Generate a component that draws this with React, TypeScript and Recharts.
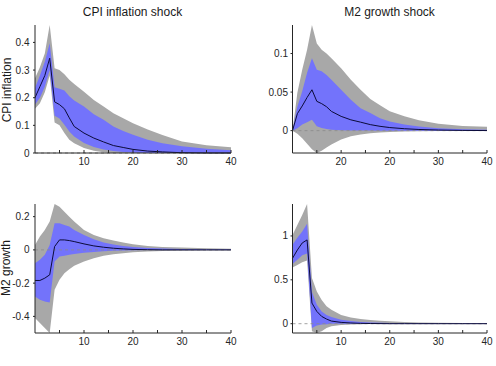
import React from 'react';
import {
  ComposedChart,
  Area,
  Line,
  XAxis,
  YAxis,
  ReferenceLine
} from 'recharts';

// horizon (periods after the shock)
const horizon = [0, 1, 2, 3, 4, 5, 6, 7, 8, 10, 12, 14, 16, 18, 20, 23, 26, 30, 35, 40];

// CPI inflation response to a CPI inflation shock
const cpiCpiMed = [0.2, 0.24, 0.28, 0.343, 0.185, 0.175, 0.16, 0.127, 0.096, 0.072, 0.054, 0.04, 0.027, 0.02, 0.013, 0.007, 0.004, 0.001, 0, 0];
const cpiCpiHi68 = [0.235, 0.28, 0.33, 0.397, 0.238, 0.232, 0.226, 0.205, 0.19, 0.168, 0.14, 0.12, 0.096, 0.08, 0.066, 0.048, 0.035, 0.024, 0.015, 0.01];
const cpiCpiLo68 = [0.175, 0.2, 0.24, 0.3, 0.135, 0.125, 0.102, 0.078, 0.06, 0.036, 0.022, 0.013, 0.007, 0.004, 0.002, 0, 0, 0, 0, 0];
const cpiCpiHi95 = [0.27, 0.31, 0.36, 0.463, 0.307, 0.3, 0.285, 0.265, 0.25, 0.222, 0.192, 0.168, 0.144, 0.126, 0.108, 0.085, 0.065, 0.042, 0.028, 0.021];
const cpiCpiLo95 = [0.16, 0.18, 0.22, 0.28, 0.11, 0.1, 0.072, 0.048, 0.035, 0.018, 0.008, 0.003, 0, 0, 0, 0, 0, 0, 0, 0];

// CPI inflation response to an M2 growth shock
const m2CpiMed = [0, 0.022, 0.032, 0.043, 0.053, 0.038, 0.035, 0.031, 0.025, 0.0185, 0.014, 0.011, 0.0078, 0.0056, 0.004, 0.0025, 0.0015, 0.0008, 0.0003, 0.0001];
const m2CpiHi68 = [0, 0.031, 0.051, 0.075, 0.094, 0.079, 0.077, 0.072, 0.066, 0.053, 0.04, 0.029, 0.023, 0.016, 0.012, 0.008, 0.0055, 0.003, 0.0018, 0.001];
const m2CpiLo68 = [0, 0.003, 0.008, 0.011, 0.014, 0.0056, 0.0035, 0.002, 0.001, 0.0005, 0.0003, 0.0002, 0.0001, 0, 0, 0, 0, 0, 0, 0];
const m2CpiHi95 = [0, 0.049, 0.079, 0.105, 0.137, 0.113, 0.105, 0.1, 0.094, 0.081, 0.066, 0.053, 0.041, 0.033, 0.025, 0.0185, 0.0135, 0.009, 0.006, 0.005];
const m2CpiLo95 = [0, -0.004, -0.01, -0.017, -0.024, -0.029, -0.026, -0.022, -0.018, -0.0116, -0.0073, -0.005, -0.0035, -0.0025, -0.0018, -0.001, -0.0007, -0.0004, -0.0002, -0.0001];

// M2 growth response to a CPI inflation shock
const cpiM2Med = [-0.184, -0.184, -0.17, -0.15, 0.02, 0.06, 0.06, 0.056, 0.05, 0.036, 0.024, 0.016, 0.01, 0.006, 0.003, 0.001, 0, 0, 0, 0];
const cpiM2Hi68 = [-0.08, -0.06, -0.03, 0.03, 0.16, 0.16, 0.15, 0.14, 0.12, 0.09, 0.064, 0.044, 0.032, 0.024, 0.018, 0.012, 0.008, 0.005, 0.003, 0.002];
const cpiM2Lo68 = [-0.28, -0.3, -0.31, -0.316, -0.07, -0.04, -0.035, -0.03, -0.025, -0.018, -0.012, -0.008, -0.005, -0.003, -0.002, -0.001, -0.001, -0.001, -0.001, -0.001];
const cpiM2Hi95 = [0.03, 0.08, 0.12, 0.17, 0.276, 0.26, 0.23, 0.2, 0.17, 0.12, 0.09, 0.07, 0.056, 0.044, 0.034, 0.024, 0.017, 0.014, 0.01, 0.007];
const cpiM2Lo95 = [-0.41, -0.44, -0.47, -0.5, -0.24, -0.18, -0.14, -0.116, -0.096, -0.07, -0.05, -0.036, -0.026, -0.02, -0.014, -0.01, -0.007, -0.005, -0.004, -0.003];

// M2 growth response to an M2 growth shock
const m2M2Med = [0.745, 0.84, 0.92, 0.955, 0.235, 0.14, 0.083, 0.053, 0.03, 0.015, 0.008, 0.004, 0.002, 0.001, 0, 0, 0, 0, 0, 0];
const m2M2Hi68 = [0.9, 0.98, 1.05, 1.14, 0.36, 0.216, 0.14, 0.1, 0.076, 0.045, 0.03, 0.02, 0.014, 0.01, 0.008, 0.005, 0.004, 0.003, 0.002, 0.0015];
const m2M2Lo68 = [0.68, 0.73, 0.78, 0.8, -0.05, -0.02, -0.01, -0.005, 0, 0, 0, 0, 0, 0, 0, 0, 0, 0, 0, 0];
const m2M2Hi95 = [1.01, 1.125, 1.24, 1.364, 0.52, 0.367, 0.27, 0.2, 0.16, 0.1, 0.072, 0.053, 0.042, 0.034, 0.027, 0.02, 0.015, 0.01, 0.007, 0.005];
const m2M2Lo95 = [0.64, 0.67, 0.7, 0.72, -0.087, -0.106, -0.087, -0.05, -0.03, -0.015, -0.008, -0.005, -0.003, -0.002, -0.001, 0, 0, 0, 0, 0];

// axis ticks
const xTicks = [5, 10, 15, 20, 25, 30, 35, 40];
const xTickLabels = ['', '10', '', '20', '', '30', '', '40'];
const xTickLabelsTopRight = ['', '20', '', '20', '', '30', '', '40'];
const cpiCpiYTicks = [0, 0.1, 0.2, 0.3, 0.4];
const m2CpiYTicks = [0, 0.05, 0.1];
const cpiM2YTicks = [-0.4, -0.2, 0, 0.2];
const m2M2YTicks = [0, 0.5, 1];

const FONT = '"Liberation Sans", Arial, Helvetica, sans-serif';
const GRAY = '#a8a8a8';
const BLUE = '#7373fb';
const INK = '#262626';

interface PanelProps {
  left: number;
  top: number;
  height: number;
  yAxisWidth: number;
  marginTop: number;
  marginRight: number;
  marginBottom: number;
  yTickMargin: number;
  med: number[];
  hi68: number[];
  lo68: number[];
  hi95: number[];
  lo95: number[];
  yTicks: number[];
  xLabels: string[];
}

const Panel: React.FC<PanelProps> = (p) => {
  const data = horizon.map((h, i) => ({
    h,
    outer: [p.lo95[i], p.hi95[i]],
    inner: [p.lo68[i], p.hi68[i]],
    med: p.med[i]
  }));
  const yMin = Math.min(...p.lo95);
  const yMax = Math.max(...p.hi95);

  return (
    <div style={{ position: 'absolute', left: p.left, top: p.top }}>
      <ComposedChart
        width={248}
        height={p.height}
        data={data}
        margin={{ top: p.marginTop, right: p.marginRight, bottom: p.marginBottom, left: 0 }}
      >
        <XAxis
          dataKey="h"
          type="number"
          domain={[0, 40]}
          ticks={xTicks}
          tickFormatter={(v: number) => p.xLabels[xTicks.indexOf(v)] ?? ''}
          height={20}
          stroke={INK}
          tickSize={-3}
          tickMargin={8}
          tick={{ fill: INK, fontSize: 10, fontFamily: FONT }}
        />
        <YAxis
          type="number"
          domain={[yMin, yMax]}
          ticks={p.yTicks}
          tickFormatter={(v: number) => String(v)}
          width={p.yAxisWidth}
          stroke={INK}
          tickSize={2}
          tickMargin={p.yTickMargin}
          tick={{ fill: INK, fontSize: 10, fontFamily: FONT }}
        />
        <Area
          dataKey="outer"
          type="linear"
          stroke="none"
          fill={GRAY}
          fillOpacity={1}
          isAnimationActive={false}
        />
        <Area
          dataKey="inner"
          type="linear"
          stroke="none"
          fill={BLUE}
          fillOpacity={1}
          isAnimationActive={false}
        />
        <ReferenceLine y={0} stroke="#8a8a8a" strokeDasharray="3 3" strokeWidth={0.8} />
        <Line
          dataKey="med"
          type="linear"
          stroke="#0b0b3a"
          strokeWidth={1}
          dot={false}
          activeDot={false}
          isAnimationActive={false}
        />
      </ComposedChart>
    </div>
  );
};

const textStyle: React.CSSProperties = {
  position: 'absolute',
  fontFamily: FONT,
  fontSize: 12,
  color: '#1a1a1a',
  whiteSpace: 'nowrap',
  lineHeight: 1
};

export default function App() {
  return (
    <div style={{ position: 'absolute', left: 0, top: 0, width: 496, height: 366, background: '#fff' }}>
      <Panel
        left={0} top={0} height={180}
        yAxisWidth={35} marginTop={25} marginRight={17} marginBottom={7} yTickMargin={3.5}
        med={cpiCpiMed} hi68={cpiCpiHi68} lo68={cpiCpiLo68} hi95={cpiCpiHi95} lo95={cpiCpiLo95}
        yTicks={cpiCpiYTicks} xLabels={xTickLabels}
      />
      <Panel
        left={248} top={0} height={180}
        yAxisWidth={44.5} marginTop={25} marginRight={9} marginBottom={7} yTickMargin={2.5}
        med={m2CpiMed} hi68={m2CpiHi68} lo68={m2CpiLo68} hi95={m2CpiHi95} lo95={m2CpiLo95}
        yTicks={m2CpiYTicks} xLabels={xTickLabelsTopRight}
      />
      <Panel
        left={0} top={180} height={186}
        yAxisWidth={35} marginTop={24} marginRight={17} marginBottom={13} yTickMargin={3.5}
        med={cpiM2Med} hi68={cpiM2Hi68} lo68={cpiM2Lo68} hi95={cpiM2Hi95} lo95={cpiM2Lo95}
        yTicks={cpiM2YTicks} xLabels={xTickLabels}
      />
      <Panel
        left={248} top={180} height={186}
        yAxisWidth={44.5} marginTop={24} marginRight={9} marginBottom={13} yTickMargin={2.5}
        med={m2M2Med} hi68={m2M2Hi68} lo68={m2M2Lo68} hi95={m2M2Hi95} lo95={m2M2Lo95}
        yTicks={m2M2YTicks} xLabels={xTickLabels}
      />

      <div style={{ ...textStyle, left: 132.5, top: 12, transform: 'translate(-50%, -50%)' }}>
        CPI inflation shock
      </div>
      <div style={{ ...textStyle, left: 389.5, top: 12, transform: 'translate(-50%, -50%)' }}>
        M2 growth shock
      </div>
      <div style={{ ...textStyle, left: 7, top: 90, transform: 'translate(-50%, -50%) rotate(-90deg)' }}>
        CPI inflation
      </div>
      <div style={{ ...textStyle, left: 6, top: 268, transform: 'translate(-50%, -50%) rotate(-90deg)' }}>
        M2 growth
      </div>
    </div>
  );
}
